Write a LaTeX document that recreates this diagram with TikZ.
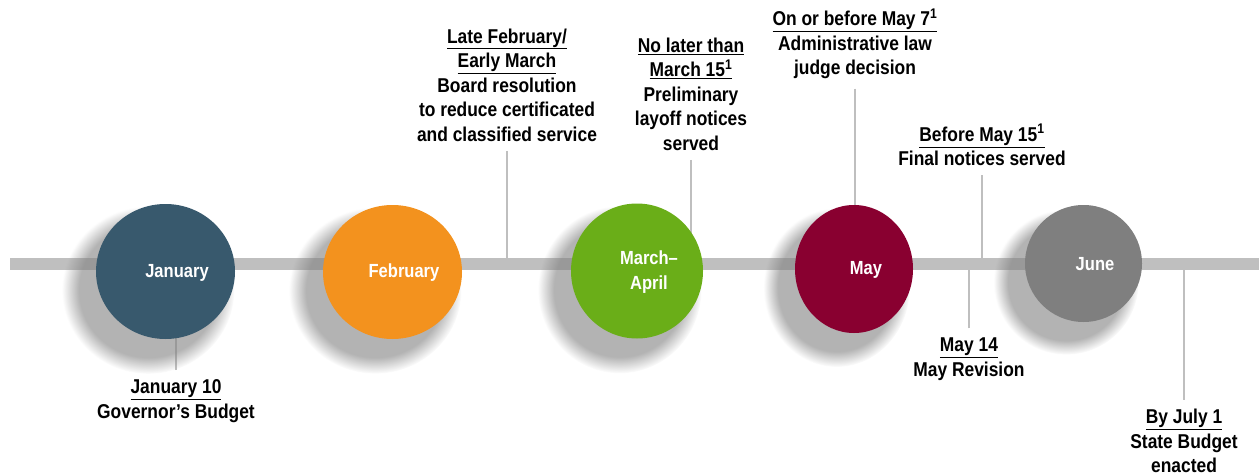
\documentclass[tikz,border=0pt]{standalone}
\usepackage{fontspec}
\setmainfont{Liberation Sans}[FakeStretch=0.87]
\usetikzlibrary{shadows,shapes.geometric,backgrounds}

\definecolor{janblue}{RGB}{56,89,109}
\definecolor{feborange}{RGB}{243,146,30}
\definecolor{margreen}{RGB}{106,174,24}
\definecolor{mayred}{RGB}{137,0,48}
\definecolor{jungray}{RGB}{127,127,127}
\definecolor{bargray}{RGB}{191,191,191}

\begin{document}
\begin{tikzpicture}[
    x=1pt, y=-1pt, % one unit = one pixel, y downwards
    month/.style={ellipse, inner sep=0pt,
        circular drop shadow={shadow xshift=-14pt, shadow yshift=-15pt,
            shadow scale=1.24, opacity=.6,
            path fading={circle with fuzzy edge 20 percent}}},
    mtext/.style={text=white, align=center,
        font=\fontsize{19}{25}\selectfont\bfseries},
    note/.style={text=black, align=center,
        font=\fontsize{20}{24.5}\selectfont\bfseries},
    tick/.style={draw=bargray, line width=2pt, shorten <=6pt},
]
\useasboundingbox (0,0) rectangle (1259,476);

% months on the bar
\node[month, fill=janblue, minimum width=139pt, minimum height=135pt] (jan) at (165.5,271.5) {};
\node[month, fill=feborange, minimum width=139pt, minimum height=134pt] (feb) at (392.5,272) {};
\node[month, fill=margreen, minimum width=132pt, minimum height=135pt] (mar) at (637,271) {};
\node[month, fill=mayred, minimum width=118pt, minimum height=128pt] (may) at (854,269) {};
\node[month, fill=jungray, minimum width=117pt, minimum height=117pt] (jun) at (1083.5,263.5) {};

\node[mtext] (janL) at (177,273) {January};
\node[mtext] (febL) at (404,273) {February};
\node[mtext] (marL) at (649,272.5) {March–\\April};
\node[mtext] (mayL) at (866,270) {May};
\node[mtext] (junL) at (1095,264) {June};

% dates and events
\node[note] (jan10) at (176,401) {\underline{January 10}\\Governor’s Budget};
\node[note] (febM) at (507,85) {\underline{Late February/}\\\underline{Early March}\\Board resolution\\to reduce certificated\\and classified service};
\node[note] (mar15) at (691,94) {\underline{No later than}\\\underline{March 15\textsuperscript{1}}\\Preliminary\\layoff notices\\served};
\node[note] (may7) at (855,44) {\underline{On or before May 7\textsuperscript{1}}\\Administrative law\\judge decision};
\node[note] (may15) at (982,145) {\underline{Before May 15\textsuperscript{1}}\\Final notices served};
\node[note] (may14) at (969,359) {\underline{May 14}\\May Revision};
\node[note] (jul1) at (1184,441) {\underline{By July 1}\\State Budget\\enacted};

\coordinate (barW) at (10,263.5);
\coordinate (barE) at (1259,263.5);

\begin{scope}[on background layer]
    \draw[tick] (jan10) -- (jan10 |- jan.center);
    \draw[tick] (febM) -- (febM |- barW);
    \draw[tick] (mar15) -- (mar15 |- mar.center);
    \draw[tick] (may7) -- (may7 |- may.center);
    \draw[tick] (may15) -- (may15 |- barW);
    \draw[tick] (may14) -- (may14 |- barW);
    \draw[tick] (jul1) -- (jul1 |- barW);
    \draw[bargray, line width=12pt] (barW) -- (barE);
\end{scope}
\end{tikzpicture}
\end{document}
